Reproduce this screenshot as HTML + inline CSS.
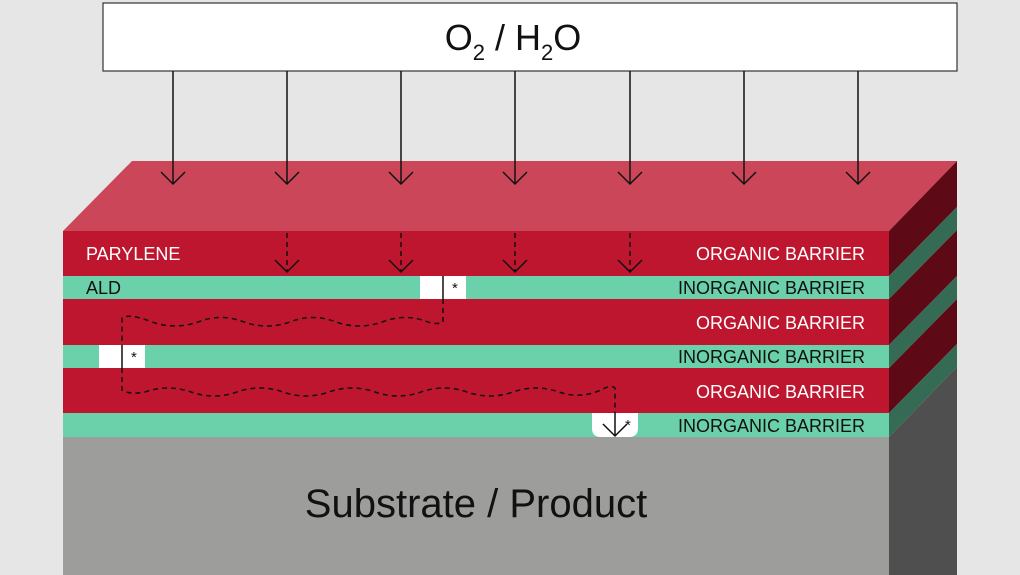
<!DOCTYPE html>
<html><head><meta charset="utf-8"><style>
html,body{margin:0;padding:0;background:#e6e6e6;}
svg{display:block;font-family:"Liberation Sans",sans-serif;}
</style></head><body>
<svg width="1020" height="575" viewBox="0 0 1020 575" xmlns="http://www.w3.org/2000/svg">
<rect width="1020" height="575" fill="#e6e6e6"/>
<!-- top face -->
<polygon points="63,231 132,161 957,161 889,231" fill="#cb4659"/>
<!-- side faces -->
<polygon points="889,231 957,161 957,207 889,276" fill="#5e0a16"/>
<polygon points="889,276 957,207 957,230 889,299" fill="#356b55"/>
<polygon points="889,299 957,230 957,276 889,345" fill="#5e0a16"/>
<polygon points="889,345 957,276 957,299 889,368" fill="#356b55"/>
<polygon points="889,368 957,299 957,344 889,413" fill="#5e0a16"/>
<polygon points="889,413 957,344 957,367 889,437" fill="#356b55"/>
<polygon points="889,437 957,367 957,575 889,575" fill="#4f4f4f"/>
<!-- front layers -->
<rect x="63" y="231" width="826" height="45" fill="#be162f"/>
<rect x="63" y="276" width="826" height="23" fill="#6bd1ab"/>
<rect x="63" y="299" width="826" height="46" fill="#be162f"/>
<rect x="63" y="345" width="826" height="23" fill="#6bd1ab"/>
<rect x="63" y="368" width="826" height="45" fill="#be162f"/>
<rect x="63" y="413" width="826" height="24" fill="#6bd1ab"/>
<rect x="63" y="437" width="826" height="138" fill="#9d9d9c"/>
<!-- defects -->
<rect x="420" y="276" width="46" height="23" fill="#fff"/>
<rect x="99" y="345" width="46" height="23" fill="#fff"/>
<path d="M592,413 H638 V428 Q638,437 629,437 H601 Q592,437 592,428 Z" fill="#fff"/>
<line x1="443" y1="276" x2="443" y2="299" stroke="#111" stroke-width="1.5"/>
<line x1="122" y1="345" x2="122" y2="368" stroke="#111" stroke-width="1.5"/>
<text x="452" y="293" font-size="15" fill="#111">*</text>
<text x="131" y="362" font-size="15" fill="#111">*</text>
<text x="625" y="430" font-size="15" fill="#111">*</text>
<!-- top box -->
<rect x="103" y="3" width="854" height="68" fill="#fff" stroke="#333" stroke-width="1.2"/>
<text x="513" y="50" font-size="36" text-anchor="middle" fill="#111">O<tspan font-size="22" dy="10">2</tspan><tspan dy="-10"> / H</tspan><tspan font-size="22" dy="10">2</tspan><tspan dy="-10">O</tspan></text>
<!-- solid arrows -->
<g stroke="#111" stroke-width="1.5" fill="none">
<line x1="173" y1="71" x2="173" y2="184"/><path d="M161,172 L173,184 L185,172"/>
<line x1="287" y1="71" x2="287" y2="184"/><path d="M275,172 L287,184 L299,172"/>
<line x1="401" y1="71" x2="401" y2="184"/><path d="M389,172 L401,184 L413,172"/>
<line x1="515" y1="71" x2="515" y2="184"/><path d="M503,172 L515,184 L527,172"/>
<line x1="630" y1="71" x2="630" y2="184"/><path d="M618,172 L630,184 L642,172"/>
<line x1="744" y1="71" x2="744" y2="184"/><path d="M732,172 L744,184 L756,172"/>
<line x1="858" y1="71" x2="858" y2="184"/><path d="M846,172 L858,184 L870,172"/>
</g>
<g stroke="#111" stroke-width="1.5" fill="none">
<g stroke-dasharray="5,4">
<line x1="287" y1="233" x2="287" y2="271"/>
<line x1="401" y1="233" x2="401" y2="271"/>
<line x1="515" y1="233" x2="515" y2="271"/>
<line x1="630" y1="233" x2="630" y2="271"/>
</g>
<path d="M275,260 L287,272 L299,260"/>
<path d="M389,260 L401,272 L413,260"/>
<path d="M503,260 L515,272 L527,260"/>
<path d="M618,260 L630,272 L642,260"/>
</g>
<!-- wavy paths -->
<path d="M443,299 V322 Q437,325 428,322 Q405,313 382,322 Q359,330 336,322 Q313,313 290,322 Q267,330 244,322 Q221,313 198,322 Q175,330 152,322 Q129,313 122,318 V345 M122,368 V390 Q130,395 145,392 Q168,384 191,392 Q214,400 237,392 Q260,384 283,392 Q306,400 329,392 Q352,384 375,392 Q398,400 421,392 Q444,384 467,392 Q490,400 513,392 Q536,384 559,392 Q582,400 605,388 Q612,385 615,388 V413" fill="none" stroke="#111" stroke-width="1.5" stroke-dasharray="5,4"/>
<g stroke="#111" stroke-width="1.5" fill="none">
<line x1="615" y1="413" x2="615" y2="436"/>
<path d="M603,424 L615,436 L627,424"/>
</g>
<!-- labels -->
<g font-size="18">
<text x="86" y="260" fill="#fff">PARYLENE</text>
<text x="86" y="294" fill="#111">ALD</text>
<text x="865" y="260" fill="#fff" text-anchor="end">ORGANIC BARRIER</text>
<text x="865" y="294" fill="#111" text-anchor="end">INORGANIC BARRIER</text>
<text x="865" y="329" fill="#fff" text-anchor="end">ORGANIC BARRIER</text>
<text x="865" y="363" fill="#111" text-anchor="end">INORGANIC BARRIER</text>
<text x="865" y="398" fill="#fff" text-anchor="end">ORGANIC BARRIER</text>
<text x="865" y="432" fill="#111" text-anchor="end">INORGANIC BARRIER</text>
</g>
<text x="476" y="517" font-size="40" text-anchor="middle" fill="#111">Substrate / Product</text>
</svg>
</body></html>
